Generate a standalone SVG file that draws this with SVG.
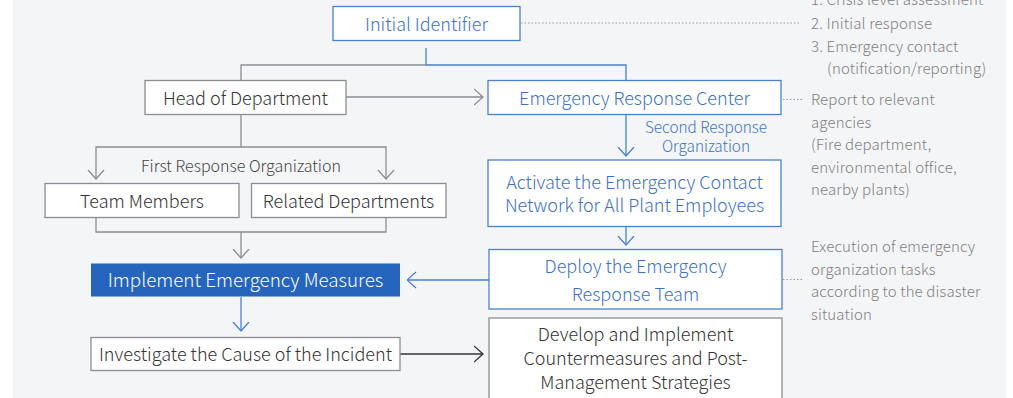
<svg xmlns="http://www.w3.org/2000/svg" width="1013" height="398" viewBox="0 0 1013 398">
<defs>
<style>
.t{font-family:"Noto Sans CJK KR","Noto Sans",sans-serif;font-weight:300;}
.bx{fill:#fff;stroke:#8a8e94;stroke-width:1.3;}
.bb{fill:#fff;stroke:#4a80d0;stroke-width:1.3;}
.dk{fill:#333;font-size:18px;}
.bl{fill:#3b72c6;font-size:18px;}
.an{fill:#808080;font-size:15px;letter-spacing:0.15px;}
.g{stroke:#8a8e94;stroke-width:1.3;fill:none;}
.b{stroke:#4a80d0;stroke-width:1.3;fill:none;}
.k{stroke:#333;stroke-width:1.3;fill:none;}
.d{stroke:#9a9a9a;stroke-width:1;stroke-dasharray:1.5 2;fill:none;}
</style>
<marker id="ag" viewBox="0 0 10 18" refX="9.5" refY="9" markerWidth="10" markerHeight="18" markerUnits="userSpaceOnUse" orient="auto"><path d="M0.5,1 L9.5,9 L0.5,17" fill="none" stroke="#8a8e94" stroke-width="1.3"/></marker>
<marker id="ab" viewBox="0 0 10 18" refX="9.5" refY="9" markerWidth="10" markerHeight="18" markerUnits="userSpaceOnUse" orient="auto"><path d="M0.5,1 L9.5,9 L0.5,17" fill="none" stroke="#4a80d0" stroke-width="1.3"/></marker>
<marker id="ak" viewBox="0 0 10 18" refX="9.5" refY="9" markerWidth="10" markerHeight="18" markerUnits="userSpaceOnUse" orient="auto"><path d="M0.5,1 L9.5,9 L0.5,17" fill="none" stroke="#333" stroke-width="1.3"/></marker>
</defs>
<rect x="13" y="0" width="993" height="398" fill="#f4f5f7"/>

<g id="connectors">
<path class="b" d="M426,48 V65 H626 V81"/>
<path class="g" d="M426,65 H241 V80"/>
<path class="g" d="M346,97 H483" marker-end="url(#ag)"/>
<path class="g" d="M241,114 V147 H96 V179" marker-end="url(#ag)"/>
<path class="g" d="M241,147 H386 V179" marker-end="url(#ag)"/>
<path class="g" d="M96,217 V232 H386 V217"/>
<path class="g" d="M241,232 V258" marker-end="url(#ag)"/>
<path class="b" d="M626,114 V156" marker-end="url(#ab)"/>
<path class="b" d="M626,227 V245" marker-end="url(#ab)"/>
<path class="b" d="M489,280 H407" marker-end="url(#ab)"/>
<path class="b" d="M241,297 V331" marker-end="url(#ab)"/>
<path class="k" d="M400,354 H483" marker-end="url(#ak)"/>
<path class="d" d="M521,23 H800"/>
<path class="d" d="M783,99.5 H803"/>
<path class="d" d="M783,279.5 H803"/>
<text class="t" x="241" y="172" text-anchor="middle" fill="#444" font-size="16">First Response Organization</text>
<text class="t" x="706" y="132.5" text-anchor="middle" fill="#3b72c6" font-size="15.3">Second Response</text>
<text class="t" x="706" y="152" text-anchor="middle" fill="#3b72c6" font-size="15.3">Organization</text>
</g>

<g id="initial-identifier">
<rect class="bb" x="333" y="6.5" width="187" height="34"/>
<text class="t bl" x="426.5" y="30.5" text-anchor="middle">Initial Identifier</text>
</g>
<g id="head-of-department">
<rect class="bx" x="145" y="80.5" width="201" height="34"/>
<text class="t dk" x="245.5" y="105" text-anchor="middle">Head of Department</text>
</g>
<g id="emergency-response-center">
<rect class="bb" x="488" y="80.5" width="293" height="34"/>
<text class="t bl" x="634.5" y="105" text-anchor="middle">Emergency Response Center</text>
</g>
<g id="team-members">
<rect class="bx" x="45" y="183.5" width="194" height="34"/>
<text class="t dk" x="142" y="207.5" text-anchor="middle">Team Members</text>
</g>
<g id="related-departments">
<rect class="bx" x="251.5" y="183.5" width="194.5" height="34"/>
<text class="t dk" x="348.5" y="207.5" text-anchor="middle">Related Departments</text>
</g>
<g id="activate-network">
<rect class="bb" x="488" y="160" width="293" height="66.5"/>
<text class="t bl" x="634.5" y="188.5" text-anchor="middle">Activate the Emergency Contact</text>
<text class="t bl" x="634.5" y="212" text-anchor="middle">Network for All Plant Employees</text>
</g>
<g id="implement-measures">
<rect x="91" y="263.5" width="309" height="33" fill="#2565bd"/>
<text class="t" x="245.5" y="287" text-anchor="middle" fill="#fff" font-size="18.8">Implement Emergency Measures</text>
</g>
<g id="deploy-team">
<rect class="bb" x="489" y="249.5" width="293" height="59.5"/>
<text class="t bl" x="635.5" y="273" text-anchor="middle">Deploy the Emergency</text>
<text class="t bl" x="635.5" y="301" text-anchor="middle">Response Team</text>
</g>
<g id="investigate">
<rect class="bx" x="91" y="337.5" width="309" height="33"/>
<text class="t dk" x="245.5" y="361" text-anchor="middle">Investigate the Cause of the Incident</text>
</g>
<g id="develop-countermeasures">
<rect class="bx" x="489" y="318" width="293" height="90"/>
<text class="t dk" x="635.5" y="341" text-anchor="middle">Develop and Implement</text>
<text class="t dk" x="635.5" y="365" text-anchor="middle">Countermeasures and Post-</text>
<text class="t dk" x="635.5" y="388.5" text-anchor="middle">Management Strategies</text>
</g>
<g id="annotations">
<text class="t an" x="811" y="5">1. Crisis level assessment</text>
<text class="t an" x="811" y="28.5">2. Initial response</text>
<text class="t an" x="811" y="52">3. Emergency contact</text>
<text class="t an" x="827" y="74">(notification/reporting)</text>
<text class="t an" x="811" y="105">Report to relevant</text>
<text class="t an" x="811" y="127.5">agencies</text>
<text class="t an" x="811" y="150">(Fire department,</text>
<text class="t an" x="811" y="172.5">environmental office,</text>
<text class="t an" x="811" y="195">nearby plants)</text>
<text class="t an" x="811" y="252">Execution of emergency</text>
<text class="t an" x="811" y="274.5">organization tasks</text>
<text class="t an" x="811" y="297">according to the disaster</text>
<text class="t an" x="811" y="319.5">situation</text>
</g>
</svg>
